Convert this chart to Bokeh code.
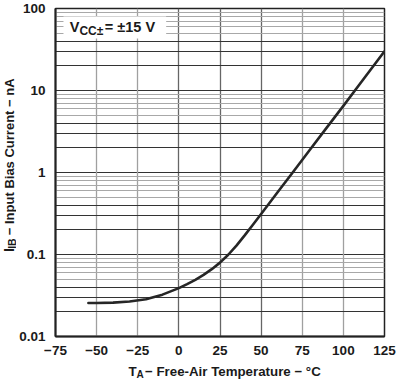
import math
from bokeh.plotting import figure
from bokeh.layouts import row, column
from bokeh.models import (Range1d, FixedTicker, CustomJSTickFormatter, Grid,
                          Label, BoxAnnotation)
from bokeh.embed import file_html
from bokeh.resources import INLINE

# ---- data ----
temperature_c = [-55, -50, -40, -30, -20, -10, 0, 5, 10, 15, 20, 25, 30, 35,
                 40, 45, 50, 60, 70, 80, 90, 100, 110, 125]
bias_current_na = [0.0256, 0.0256, 0.0259, 0.0267, 0.0285, 0.0324, 0.0389,
                   0.0435, 0.049, 0.0564, 0.0662, 0.0796, 0.0993, 0.1285,
                   0.171, 0.231, 0.312, 0.573, 1.05, 1.93, 3.55, 6.5, 12.0, 30.0]

x_ticks = [-75, -50, -25, 0, 25, 50, 75, 100, 125]
x_tick_labels = ["\u221275", "\u221250", "\u221225", "0", "25", "50", "75", "100", "125"]
y_ticks = [0.01, 0.1, 1, 10, 100]
y_tick_labels = ["0.01", "0.1", "1", "10", "100"]
y_minor_dark = [m * d for d in [0.01, 0.1, 1, 10] for m in (2, 3, 4)]
y_minor_light = [m * d for d in [0.01, 0.1, 1, 10] for m in (5, 6, 7, 8, 9)]
x_grid_dark = [0, 25, 50]
x_grid_light = [-50, -25, 75, 100]

X_RANGE = (-75, 125)
Y_RANGE = (0.01, 100)

# ---- layout (page pixels) ----
PAGE_W, PAGE_H = 396, 380
YT_W = 16            # strip for the rotated y title
XT_H = 16            # strip for the x title
W = PAGE_W - YT_W    # main figure width
H = PAGE_H - XT_H    # main figure height
BL, BR, BT, BB = 54 - YT_W, 12, 8, H - 336
FW = W - BL - BR
FH = H - BT - BB
MID = 0.35           # baseline -> middle of the em box, in em


def px_x(px):
    cx = px - YT_W - BL
    return X_RANGE[0] + cx / FW * (X_RANGE[1] - X_RANGE[0])


def px_y(py):
    cy = py - BT
    l_top, l_bot = math.log10(Y_RANGE[1]), math.log10(Y_RANGE[0])
    return 10 ** (l_top + cy / FH * (l_bot - l_top))


FONT = "Liberation Sans"
TXT = "#1a1a1a"

p = figure(width=W, height=H, y_axis_type="log",
           x_range=Range1d(*X_RANGE), y_range=Range1d(*Y_RANGE),
           output_backend="svg", toolbar_location=None,
           min_border_left=BL, min_border_right=BR,
           min_border_top=BT, min_border_bottom=BB)
p.background_fill_color = "white"
p.border_fill_color = "white"
p.outline_line_color = "#222222"
p.outline_line_width = 1.5

fmt_code = """
let best = 0, bd = Infinity;
for (let i = 0; i < tv.length; i++) {
  const d = Math.abs(tv[i] - tick);
  if (d < bd) { bd = d; best = i; }
}
return bd <= 1e-6 * Math.max(Math.abs(tv[best]), 1e-3) ? tl[best] : "";
"""

# x axis
xa = p.xaxis[0]
xa.ticker = FixedTicker(ticks=x_ticks)
xa.formatter = CustomJSTickFormatter(args=dict(tv=x_ticks, tl=x_tick_labels), code=fmt_code)
xa.major_tick_out = 0
xa.major_tick_in = 0
xa.minor_tick_out = 0
xa.minor_tick_in = 0
xa.axis_line_width = 2
xa.axis_line_color = "#222222"
xa.major_label_standoff = 9
xa.major_label_text_font = FONT
xa.major_label_text_font_style = "bold"
xa.major_label_text_font_size = "13.5px"
xa.major_label_text_color = TXT

# y axis
ya = p.yaxis[0]
ya.ticker = FixedTicker(ticks=y_ticks, minor_ticks=[])
ya.formatter = CustomJSTickFormatter(args=dict(tv=y_ticks, tl=y_tick_labels), code=fmt_code)
ya.major_tick_out = 0
ya.major_tick_in = 0
ya.minor_tick_out = 0
ya.minor_tick_in = 0
ya.axis_line_width = 2
ya.axis_line_color = "#222222"
ya.major_label_standoff = 10
ya.major_label_text_font = FONT
ya.major_label_text_font_style = "bold"
ya.major_label_text_font_size = "13.5px"
ya.major_label_text_color = TXT

# grids
p.xgrid[0].ticker = FixedTicker(ticks=x_grid_dark)
p.xgrid[0].grid_line_color = "#666666"
p.xgrid[0].grid_line_width = 1.3
p.ygrid[0].ticker = FixedTicker(ticks=y_ticks, minor_ticks=[])
p.ygrid[0].grid_line_color = "#333333"
p.ygrid[0].grid_line_width = 1
p.add_layout(Grid(dimension=0, ticker=FixedTicker(ticks=x_grid_light),
                  grid_line_color="#a0a0a0", grid_line_width=1.3))
p.add_layout(Grid(dimension=1, ticker=FixedTicker(ticks=y_minor_dark),
                  grid_line_color="#333333", grid_line_width=1))
p.add_layout(Grid(dimension=1, ticker=FixedTicker(ticks=y_minor_light),
                  grid_line_color="#a8a8a8", grid_line_width=1.2))

# curve
p.line(temperature_c, bias_current_na, line_color="#262626", line_width=2.6,
       line_join="round", line_cap="round")

# condition box
p.add_layout(BoxAnnotation(left=px_x(62), right=px_x(165), top=px_y(16), bottom=px_y(38),
                           fill_color="white", fill_alpha=1.0, line_alpha=0,
                           level="overlay"))


def lab(fig, x, y, text, size, angle=0.0, align="left"):
    fig.add_layout(Label(x=x, y=y, text=text, text_font=FONT,
                         text_font_style="bold", text_font_size=f"{size}px",
                         text_color=TXT, text_align=align,
                         text_baseline="middle", angle=angle, level="overlay"))


# V_CC± = ±15 V  (page baselines 32 / 35)
lab(p, px_x(68.3), px_y(32 - MID * 14.5), "V", 14.5)
lab(p, px_x(78.0), px_y(35 - MID * 12), "CC\u00b1", 12)
lab(p, px_x(103.5), px_y(32 - MID * 14.5), " = \u00b115 V", 14.5)


def strip(w, h):
    f = figure(width=w, height=h, x_range=Range1d(0, w), y_range=Range1d(0, h),
               output_backend="svg", toolbar_location=None,
               x_axis_location=None, y_axis_location=None,
               min_border=0, min_border_left=0, min_border_right=0,
               min_border_top=0, min_border_bottom=0,
               outline_line_color=None)
    f.grid.visible = False
    f.background_fill_color = "white"
    f.border_fill_color = "white"
    return f


# y-axis title strip (x: page px, y: up from the strip bottom); centre-anchored pieces
yfig = strip(YT_W, H)
start = 270.0                  # page y where the title begins (bottom)
w_i, w_ib, gap, w_rest = 0.278 * 14, 1.0 * 10.5, 2.0, 178.0
pieces = [
    ("I", 14, 13.6, start - w_i / 2),
    ("IB", 10.5, 15.0, start - w_i - w_ib / 2),
    ("\u2212 Input Bias Current \u2212 nA", 13, 13.6, start - w_i - w_ib - gap - w_rest / 2),
]
for text, size, base_x, cy in pieces:
    lab(yfig, base_x - MID * size, H - cy, text, size, math.pi / 2, align="center")

# x-axis title strip
xfig = strip(PAGE_W, XT_H)
lab(xfig, 128, PAGE_H - (375.5 - MID * 13.3), "T", 13.3)
lab(xfig, 136.1, PAGE_H - (377.8 - MID * 10), "A", 10)
lab(xfig, 144.5, PAGE_H - (375.5 - MID * 13.3), " \u2212 Free-Air Temperature \u2212 \u00b0C", 13.3)

layout = column(row(yfig, p, spacing=0), xfig, spacing=0)

open("out.html", "w").write(file_html(layout, INLINE))
